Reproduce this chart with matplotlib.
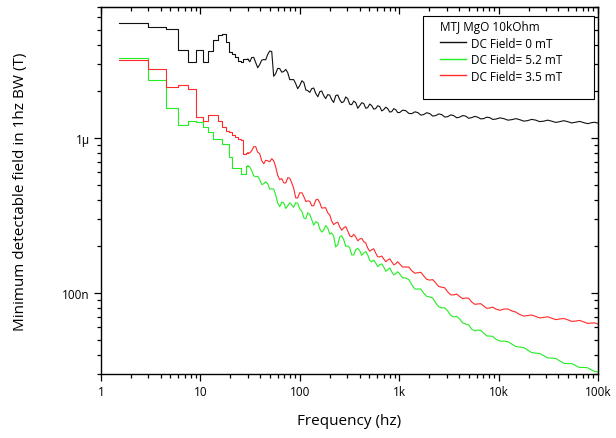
import numpy as np
import matplotlib
matplotlib.use("Agg")
import matplotlib.pyplot as plt
from matplotlib.ticker import NullFormatter, LogLocator
from matplotlib.patches import Rectangle

# Low-frequency bins (1.5 Hz resolution), drawn as steps
freq_low = [1.5, 3.0, 4.5, 6.0, 7.5, 9.0, 10.5, 12.0, 13.5, 15.0, 16.5, 18.0,
            19.5, 21.0, 22.5, 24.0, 25.5, 27.0, 28.5]

black_low_nT = [5482, 5164, 5035, 3683, 3112, 3683, 3112, 3628, 4275, 4585, 4653,
                4192, 3612, 3506, 3353, 3160, 3112, 3255, 3231]
green_low_nT = [3289, 2356, 1563, 1219, 1280, 1269, 1177, 1093, 979, 979, 919,
                919, 754, 640, 640, 640, 588, 588, 662]
red_low_nT = [3207, 2776, 2136, 2211, 2083, 1367, 1294, 1415, 1404, 1294, 1183,
              1114, 1093, 1050, 1019, 990, 975, 792, 804]

# Higher-frequency part of the spectrum
freq_high = [30, 31.4, 32.8, 34.4, 36.0, 37.7, 39.5, 41.4, 43.4, 45.4, 47.5,
             49.8, 52.2, 54.6, 57.2, 59.9, 62.8, 65.8, 68.9, 72.2, 75.6, 79.2,
             82.9, 86.8, 90.9, 95.2, 99.8, 105, 110, 115, 120, 126, 132, 138,
             145, 152, 159, 166, 174, 182, 191, 200, 209, 219, 230, 241, 252,
             264, 277, 290, 303, 318, 333, 349, 365, 383, 401, 420, 440, 461,
             482, 505, 529, 554, 580, 608, 637, 667, 699, 732, 766, 803, 841,
             881, 922, 965, 1010, 1080, 1160, 1250, 1340, 1440, 1540, 1650,
             1760, 1890, 2030, 2170, 2330, 2500, 2680, 2870, 3080, 3300, 3530,
             3790, 4060, 4350, 4670, 5000, 5360, 5750, 6160, 6600, 7080, 7590,
             8140, 8720, 9350, 10300, 11300, 12400, 13600, 14900, 16300,
             17900, 19600, 21500, 23600, 25900, 28400, 31200, 34200, 37500,
             41200, 45200, 49600, 54400, 59700, 65500, 71800, 78800, 86400,
             93000, 100000]

black_high_nT = [3231, 3100, 3304, 3310, 3066, 2840, 2976, 3180, 3207, 3195,
                 3454, 3640, 3612, 2500, 2603, 2810, 2805, 2660, 2682, 2770,
                 2642, 2380, 2380, 2380, 2244, 2080, 2178, 2340, 2278, 2040,
                 2022, 1970, 2083, 2100, 1933, 1845, 1991, 2010, 1876, 1795,
                 1904, 1890, 1768, 1695, 1876, 1895, 1768, 1690, 1716, 1840,
                 1795, 1650, 1641, 1730, 1691, 1555, 1617, 1690, 1666, 1555,
                 1570, 1655, 1617, 1535, 1547, 1615, 1594, 1495, 1524, 1580,
                 1547, 1470, 1479, 1545, 1524, 1460, 1458, 1510, 1502, 1440,
                 1436, 1475, 1458, 1405, 1415, 1455, 1436, 1385, 1394, 1430,
                 1415, 1365, 1373, 1410, 1394, 1350, 1363, 1395, 1383, 1340,
                 1353, 1378, 1363, 1328, 1333, 1362, 1353, 1318, 1323, 1348,
                 1333, 1303, 1313, 1333, 1313, 1284, 1294, 1318, 1304, 1275,
                 1284, 1303, 1284, 1260, 1274, 1293, 1274, 1250, 1265, 1279,
                 1256, 1237, 1256, 1263, 1246]
green_high_nT = [662, 650, 615, 570, 562, 566, 538, 501, 507, 522, 507, 468,
                 470, 468, 430, 381, 360, 386, 382, 351, 365, 382, 370, 357,
                 382, 380, 349, 336, 305, 301, 329, 321, 296, 274, 288, 284,
                 259, 247, 255, 272, 263, 240, 244, 233, 198, 205, 230, 234,
                 220, 200, 201, 196, 176, 176, 190, 194, 187, 175, 181, 185,
                 176, 162, 159, 163, 156, 148, 152, 154, 147, 138, 141, 145,
                 137, 131, 133, 137, 133, 125, 125, 122, 113, 106, 106, 106,
                 100, 95.1, 94.2, 92.8, 86.2, 81.4, 80.0, 80.2, 76.5, 71.7,
                 70.0, 70.6, 67.9, 64.1, 63.0, 62.2, 58.5, 56.9, 57.6, 57.4,
                 55.1, 52.8, 52.7, 52.5, 50.4, 48.9, 48.9, 48.5, 46.8, 45.1,
                 44.8, 44.4, 42.8, 41.2, 40.9, 40.7, 39.4, 38.1, 38.0, 37.8,
                 36.5, 35.2, 35.0, 35.0, 34.0, 33.0, 33.1, 32.9, 31.8, 31.1,
                 31.0]
red_high_nT = [804, 800, 828, 879, 879, 809, 792, 713, 682, 718, 713, 702,
               735, 713, 652, 574, 538, 547, 514, 512, 554, 550, 514, 474,
               411, 410, 443, 443, 417, 389, 393, 390, 365, 366, 399, 402,
               382, 353, 354, 355, 329, 319, 292, 276, 283, 286, 267, 254,
               263, 268, 252, 234, 230, 239, 230, 217, 223, 225, 214, 210,
               195, 186, 190, 193, 181, 171, 171, 173, 166, 159, 163, 166,
               159, 152, 154, 159, 154, 147, 147, 147, 139, 134, 135, 136,
               129, 122.5, 121, 122, 116, 110, 109, 108, 101.5, 97.3, 97.1,
               98.4, 94.9, 91.9, 92.8, 92.4, 87.5, 84.5, 84.9, 85.3, 82.4,
               79.6, 80.0, 81.0, 78.8, 77.2, 78.8, 78.8, 76.5, 75.3, 72.6,
               70.9, 71.5, 72.1, 70.5, 69.0, 69.6, 70.2, 68.7, 67.3, 67.9,
               68.5, 67.1, 65.5, 65.9, 66.5, 65.1, 63.6, 64.0, 64.1, 63.0]

series_labels = ["DC Field= 0 mT", "DC Field= 5.2 mT", "DC Field= 3.5 mT"]
legend_title = "MTJ MgO 10kOhm"
x_tick_values = [1, 10, 100, 1e3, 1e4, 1e5]
x_tick_labels = ["1", "10", "100", "1k", "10k", "100k"]
y_tick_values = [1e-7, 1e-6]
y_tick_labels = ["100n", "1\u00b5"]

plt.rcParams["font.family"] = ["Open Sans", "DejaVu Sans"]

W, H = 616, 439
fig = plt.figure(figsize=(W / 100, H / 100), dpi=100)
ax = fig.add_axes([101 / W, 1 - 375 / H, 497 / W, 367 / H])

NANO = 1e-9


def draw(low, high, color, label):
    fl = np.r_[freq_low, freq_high[0]]
    vl = np.r_[low, high[0]] * NANO
    ax.plot(fl, vl, drawstyle="steps-post", color=color, lw=0.8)
    ax.plot(freq_high, np.asarray(high) * NANO, color=color, lw=0.8,
            label=label)


draw(black_low_nT, black_high_nT, "#111111", series_labels[0])
draw(green_low_nT, green_high_nT, "#22ee22", series_labels[1])
draw(red_low_nT, red_high_nT, "#ff2a2a", series_labels[2])

ax.set_xscale("log")
ax.set_yscale("log")
ax.set_xlim(1, 1e5)
ax.set_ylim(3e-8, 7e-6)

ax.set_xticks(x_tick_values, x_tick_labels)
ax.set_yticks(y_tick_values, y_tick_labels)
ax.xaxis.set_minor_locator(LogLocator(base=10, subs=np.arange(2, 10)))
ax.yaxis.set_minor_locator(LogLocator(base=10, subs=np.arange(2, 10)))
ax.xaxis.set_minor_formatter(NullFormatter())
ax.yaxis.set_minor_formatter(NullFormatter())

ax.tick_params(which="both", direction="out", top=False, right=False,
               width=0.9, labelsize=8.5, colors="black")
ax.tick_params(which="major", length=5, pad=3)
ax.tick_params(which="minor", length=3)
for sp in ax.spines.values():
    sp.set_linewidth(1.0)

# inward ticks on the top and right edges
secx = ax.secondary_xaxis("top")
secx.tick_params(which="both", direction="in", labeltop=False, width=0.9)
secx.tick_params(which="major", length=5)
secx.tick_params(which="minor", length=3)
secx.xaxis.set_major_formatter(NullFormatter())
secx.xaxis.set_minor_formatter(NullFormatter())
secy = ax.secondary_yaxis("right")
secy.tick_params(which="both", direction="in", labelright=False, width=0.9)
secy.tick_params(which="major", length=5)
secy.tick_params(which="minor", length=3)
secy.yaxis.set_major_formatter(NullFormatter())
secy.yaxis.set_minor_formatter(NullFormatter())

ax.set_xlabel("Frequency (hz)", fontsize=11)
ax.set_ylabel("Minimum detectable field in 1hz BW (T)", fontsize=11)
ax.xaxis.set_label_coords(0.5, -0.105)
ax.yaxis.set_label_coords(-0.147, 0.5)

leg = ax.legend(title=legend_title, loc="upper left",
                bbox_to_anchor=(440 / W, 1 - 21 / H),
                bbox_transform=fig.transFigure, frameon=False,
                fontsize=8.5, title_fontsize=8.5, handlelength=2.2,
                handletextpad=0.45, labelspacing=0.3, borderpad=0,
                borderaxespad=0, alignment="left")
leg.get_title().set_linespacing(1.9)
for handle in leg.legend_handles:
    handle.set_linewidth(1.0)
fig.add_artist(Rectangle((423 / W, 1 - 100 / H), 171 / W, 83 / H,
                         transform=fig.transFigure, fill=False,
                         edgecolor="black", lw=0.8, zorder=5))

fig.savefig("out.png", dpi=100)
